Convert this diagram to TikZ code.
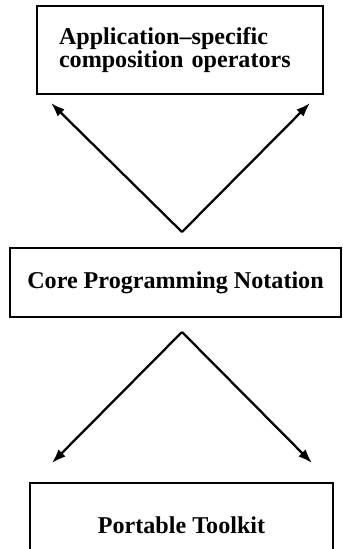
\documentclass[tikz,border=0pt]{standalone}
\usepackage{fontspec}
\setmainfont{Liberation Serif}
\usepackage{tikz}
\usetikzlibrary{arrows.meta,positioning,calc}
\tikzset{
  layerarrow/.style={-{Latex[length=14bp,width=10bp]}, line width=2.3pt, draw=black},
  layerbox/.style={draw=black, line width=1.6pt, fill=white, inner sep=0pt,
    font=\fontsize{24.2}{23}\selectfont\bfseries}
}
\begin{document}
\begin{tikzpicture}[x=1bp,y=-1bp]
                \useasboundingbox (0,0) rectangle (342,549);
                \node[layerbox, minimum width=286bp, minimum height=88bp,
                      text width=242bp, align=left] (app) at (180,50)
                      {Application--specific\\composition operators};
                \node[layerbox, minimum width=331bp, minimum height=69bp] (core) at (175.5,282.5)
                      {Core Programming Notation};
                \node[layerbox, minimum width=303bp, minimum height=84bp] (kit) at (181.5,525)
                      {Portable Toolkit};
                \coordinate (upfork) at (182,232);
                \coordinate (downfork) at (182,332);
                \coordinate (appleft) at (51,103);
                \coordinate (appright) at (310,103);
                \coordinate (kitleft) at (52,463);
                \coordinate (kitright) at (312,463);
                \draw[layerarrow] (upfork) -- (appleft);
                \draw[layerarrow] (upfork) -- (appright);
                \draw[layerarrow] (downfork) -- (kitleft);
                \draw[layerarrow] (downfork) -- (kitright);
            \end{tikzpicture}
\end{document}
